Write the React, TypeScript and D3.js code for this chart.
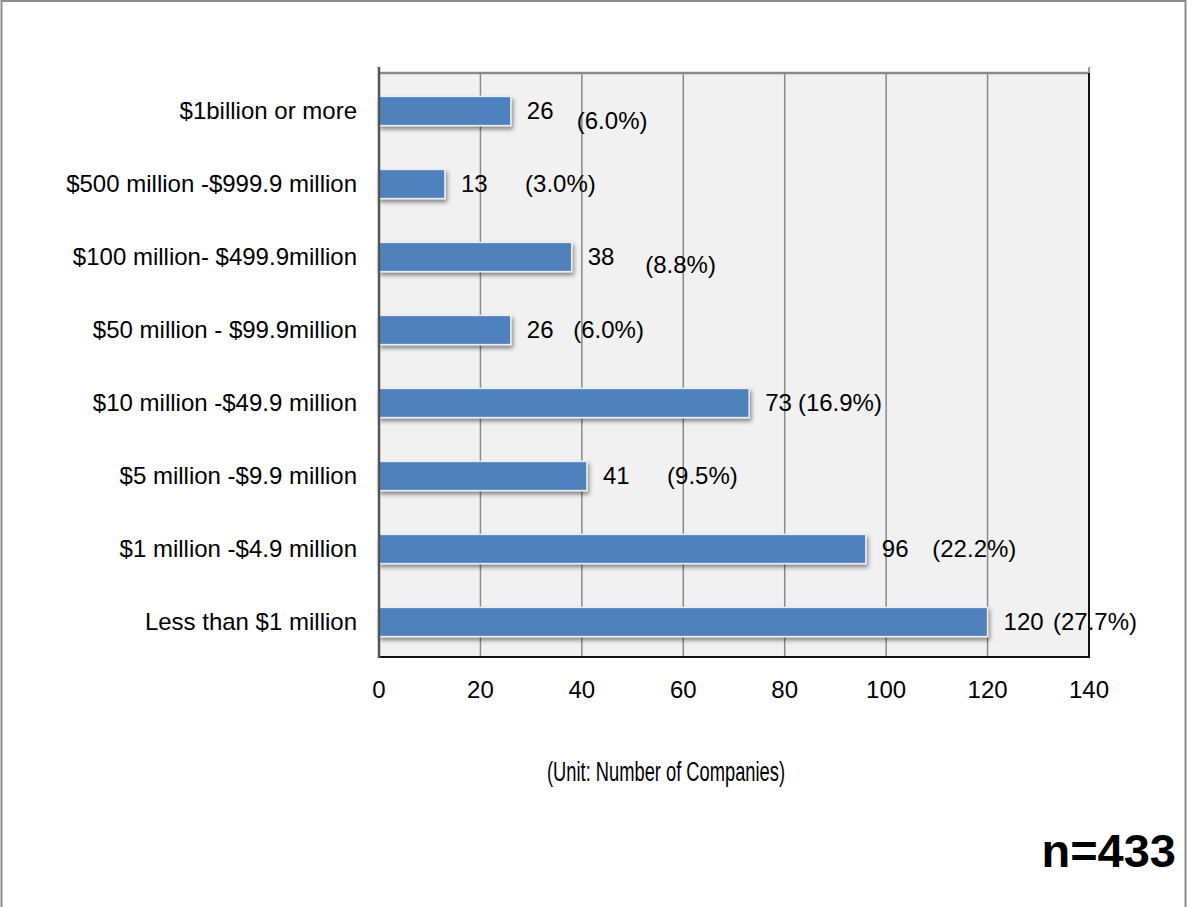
import React from "react";
import * as d3 from "d3";

const categories = [
  "$1billion or more",
  "$500 million -$999.9 million",
  "$100 million- $499.9million",
  "$50 million - $99.9million",
  "$10 million -$49.9 million",
  "$5 million -$9.9 million",
  "$1 million -$4.9 million",
  "Less than $1 million",
];
const counts = [26, 13, 38, 26, 73, 41, 96, 120];
const percentLabels = ["(6.0%)", "(3.0%)", "(8.8%)", "(6.0%)", "(16.9%)", "(9.5%)", "(22.2%)", "(27.7%)"];
const xTicks = [0, 20, 40, 60, 80, 100, 120, 140];
const unitLabel = "(Unit: Number of Companies)";
const sampleLabel = "n=433";

// manual placement of the percentage labels (data units on x, px offsets on y)
const pctLabelPos = [39.0, 28.8, 52.5, 38.3, 82.6, 56.8, 109.1, 132.9];
const pctLabelDy = [10, 0, 8, 0, 0, 0, 0, 0];

const W = 1188;
const H = 907;
const plot = { left: 379, right: 1089, top: 73, bottom: 657 };
const FONT = "'Liberation Sans', Arial, Helvetica, sans-serif";

export default function App() {
  const x = d3.scaleLinear().domain([0, 140]).range([plot.left, plot.right]);
  const y = d3
    .scaleBand<string>()
    .domain(categories)
    .range([plot.top + 1.5, plot.bottom + 1.5])
    .paddingInner(0.6)
    .paddingOuter(0.3);
  const bw = y.bandwidth();

  return (
    <svg
      width={W}
      height={H}
      style={{ position: "absolute", left: 0, top: 0, background: "#fff" }}
      fontFamily={FONT}
    >
      <defs>
        <filter id="shadow" x="-10%" y="-30%" width="130%" height="190%">
          <feDropShadow dx="1.5" dy="3" stdDeviation="2" floodColor="#000" floodOpacity="0.45" />
        </filter>
      </defs>
      {/* outer frame */}
      <rect x={1.5} y={1} width={1184} height={H + 20} fill="#fff" stroke="#8c8c8c" strokeWidth={2} />

      {/* plot area */}
      <rect
        x={plot.left}
        y={plot.top}
        width={plot.right - plot.left}
        height={plot.bottom - plot.top}
        fill="#f1f1f1"
      />
      {xTicks.slice(1, -1).map((t) => (
        <line key={t} x1={x(t)} x2={x(t)} y1={plot.top} y2={plot.bottom} stroke="#8a8a8a" strokeWidth={1.5} />
      ))}
      <line x1={plot.left} x2={plot.right} y1={plot.top} y2={plot.top} stroke="#8a8a8a" strokeWidth={2.5} />
      <line x1={plot.right} x2={plot.right} y1={plot.top - 6} y2={plot.top} stroke="#999" strokeWidth={2} />
      <line x1={plot.right} x2={plot.right} y1={plot.top} y2={plot.bottom + 1} stroke="#111" strokeWidth={2} />
      <line x1={plot.left} x2={plot.right + 1} y1={plot.bottom} y2={plot.bottom} stroke="#111" strokeWidth={2} />

      {/* bars */}
      {categories.map((c, i) => (
        <rect
          key={c}
          x={x(0)}
          y={y(c)}
          width={x(counts[i]) - x(0)}
          height={bw}
          fill="#4f81bd"
          stroke="#e8eef7"
          strokeWidth={1.5}
          filter="url(#shadow)"
        />
      ))}
      <line x1={plot.left} x2={plot.left} y1={plot.top - 6} y2={plot.bottom + 1} stroke="#555" strokeWidth={2.5} />

      {/* category labels */}
      {categories.map((c) => (
        <text key={c} x={357} y={(y(c) as number) + bw / 2} dy="0.35em" textAnchor="end" fontSize={24} fill="#000">
          {c}
        </text>
      ))}

      {/* value labels */}
      {categories.map((c, i) => (
        <text key={c} x={x(counts[i]) + 16} y={(y(c) as number) + bw / 2} dy="0.35em" fontSize={24} fill="#000">
          {counts[i]}
        </text>
      ))}
      {categories.map((c, i) => (
        <text
          key={c}
          x={x(pctLabelPos[i])}
          y={(y(c) as number) + bw / 2 + pctLabelDy[i]}
          dy="0.35em"
          fontSize={24}
          fill="#000"
        >
          {percentLabels[i]}
        </text>
      ))}

      {/* x tick labels */}
      {xTicks.map((t) => (
        <text key={t} x={x(t)} y={690} dy="0.35em" textAnchor="middle" fontSize={24} fill="#000">
          {t}
        </text>
      ))}

      <text x={547} y={772} dy="0.35em" fontSize={27} textLength={238} lengthAdjust="spacingAndGlyphs" fill="#000">
        {unitLabel}
      </text>
      <text x={1176} y={867} textAnchor="end" fontSize={47} fontWeight="bold" fill="#000">
        {sampleLabel}
      </text>
    </svg>
  );
}
